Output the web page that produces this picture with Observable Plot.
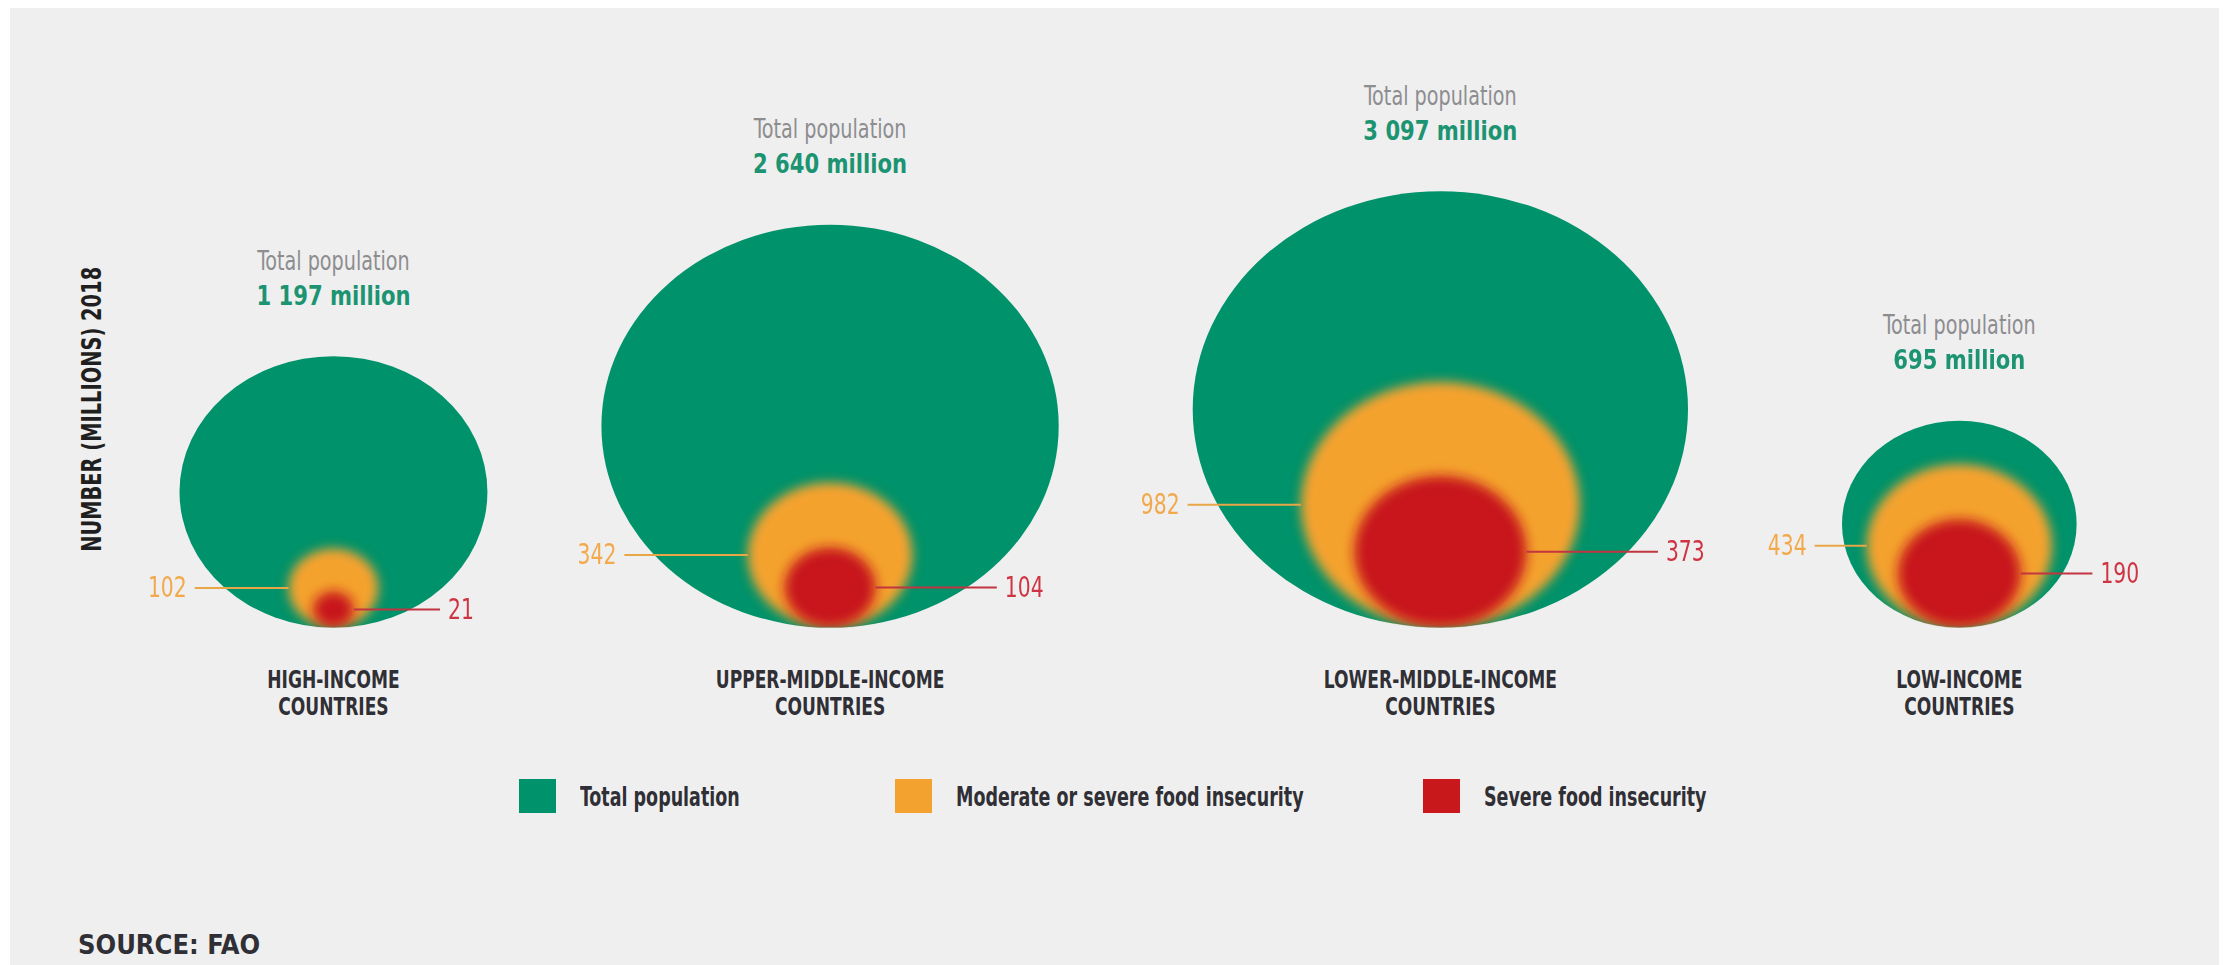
<!DOCTYPE html>
<html>
<head>
<meta charset="utf-8">
<script src="https://cdn.jsdelivr.net/npm/d3@7"></script>
<script src="https://cdn.jsdelivr.net/npm/@observablehq/plot@0.6"></script>
<style>
  html, body { margin: 0; padding: 0; background: #ffffff; }
  body { width: 2234px; height: 965px; overflow: hidden; position: relative;
         font-family: "Liberation Sans Narrow", "DejaVu Sans Condensed", "Roboto", sans-serif; }
  #panel { position: absolute; left: 10px; top: 8px; width: 2209px; height: 957px; background: #efefef; overflow: hidden; }
  #chart { position: absolute; left: 0; top: 0; }
  #legend { position: absolute; top: 771px; left: 0; width: 100%; height: 34px; }
  .item { position: absolute; top: 0; height: 34px; display: flex; align-items: center;
          font-weight: bold; font-size: 27px; color: #2f2f35; white-space: nowrap; }
  .item span { display: inline-block; transform: scaleX(0.72); transform-origin: left center; }
  .sw { width: 37px; height: 34px; margin-right: 24px; flex: none; }
  #source { position: absolute; left: 68px; top: 922px; font-weight: bold; font-size: 27px; line-height: 30px; color: #2f2f35; }
</style>
</head>
<body>
<div id="panel">
  <div id="chart"></div>
  <div id="legend"></div>
  <div id="source">SOURCE: FAO</div>
</div>
<script>
// ---- Data ----
const categories = [
  "HIGH-INCOME\nCOUNTRIES",
  "UPPER-MIDDLE-INCOME\nCOUNTRIES",
  "LOWER-MIDDLE-INCOME\nCOUNTRIES",
  "LOW-INCOME\nCOUNTRIES"
];
const totalPopulation = [1197, 2640, 3097, 695];      // millions, 2018
const moderateOrSevere = [102, 342, 982, 434];        // moderate or severe food insecurity
const severeInsecurity = [21, 104, 373, 190];         // severe food insecurity
const seriesNames = ["Total population", "Moderate or severe food insecurity", "Severe food insecurity"];
const axisTitle = "NUMBER (MILLIONS) 2018";
const totalCaption = "Total population";

// ---- Styling / layout ----
const FONT = '"Liberation Sans Narrow", "DejaVu Sans Condensed", "Roboto", sans-serif';
const GREEN = "#00926a", ORANGE = "#f4a22f", RED = "#c8181c";
const seriesColors = [GREEN, ORANGE, RED];
const KX = 4.45, KY = 3.92;          // px per sqrt-unit, horizontal / vertical
const BOTTOM = 619, LEFT = 169;
const GAP0_PX = 114, GAP_STEP_PX = 20, PAD_PX = 30;
const W = 2209, H = 745;
const padU = PAD_PX / KX;

const fmt = v => String(v).replace(/\B(?=(\d{3})+(?!\d))/g, " ");

let cursor = 0, lastGap = 0;
const rows = categories.map((category, i) => {
  const sT = Math.sqrt(totalPopulation[i]);
  const sM = Math.sqrt(moderateOrSevere[i]);
  const sS = Math.sqrt(severeInsecurity[i]);
  const cx = cursor + sT;
  lastGap = (GAP0_PX + GAP_STEP_PX * i) / KX;
  cursor = cx + sT + lastGap;
  const halfWidthAt = h => sT * Math.sqrt(Math.max(0, 1 - ((h - sT) / sT) ** 2));
  return {
    category, total: totalPopulation[i], moderate: moderateOrSevere[i], severe: severeInsecurity[i],
    cx, sT, sM, sS,
    mLeft: cx - halfWidthAt(sM) - padU, mEdge: cx - sM,
    sEdge: cx + sS, sRight: cx + halfWidthAt(sS) + padU
  };
});
const extent = cursor - lastGap;
const maxTotal = d3.max(totalPopulation);
const yMax = 2 * Math.sqrt(maxTotal);

const svg = Plot.plot({
  width: W, height: H,
  marginLeft: 82, marginTop: 0, marginRight: 0, marginBottom: 0,
  style: { background: "transparent", fontFamily: FONT, overflow: "visible" },
  x: { domain: [0, extent], range: [LEFT, LEFT + KX * extent], axis: null },
  y: { domain: [0, yMax], range: [BOTTOM, BOTTOM - KY * yMax], axis: null },
  r: { type: "sqrt", domain: [0, maxTotal], range: [0, KX * Math.sqrt(maxTotal)] },
  marks: [
    Plot.dot(rows, { x: "cx", y: "sT", r: "total", fill: GREEN }),
    Plot.dot(rows, { x: "cx", y: "sM", r: "moderate", fill: ORANGE }),
    Plot.dot(rows, { x: "cx", y: "sS", r: "severe", fill: RED }),
    Plot.link(rows, { x1: "mLeft", x2: "mEdge", y1: "sM", y2: "sM", stroke: "#e9a646", strokeWidth: 2 }),
    Plot.link(rows, { x1: "sEdge", x2: "sRight", y1: "sS", y2: "sS", stroke: "#c23540", strokeWidth: 2 }),
    Plot.text(rows, { x: "mLeft", y: "sM", text: d => String(d.moderate), textAnchor: "end", dx: -8,
                      fill: "#f2a94c", fontSize: 29 }),
    Plot.text(rows, { x: "sRight", y: "sS", text: d => String(d.severe), textAnchor: "start", dx: 8,
                      fill: "#cf3443", fontSize: 29 }),
    Plot.text(rows, { x: "cx", y: d => 2 * d.sT, text: () => totalCaption, dy: -95,
                      fill: "#8d8d90", fontSize: 27 }),
    Plot.text(rows, { x: "cx", y: d => 2 * d.sT, text: d => fmt(d.total) + " million", dy: -60,
                      fill: "#1c9472", fontSize: 27, fontWeight: "bold" }),
    Plot.text(rows, { x: "cx", y: () => 0, text: "category", lineAnchor: "top", dy: 41, lineHeight: 1.08,
                      fontSize: 25, fontWeight: "bold", fill: "#2f2f35" }),
    Plot.text([axisTitle], { y: () => Math.sqrt(maxTotal), frameAnchor: "left", textAnchor: "middle",
                             text: d => d, rotate: -90, fontSize: 27, fontWeight: "bold", fill: "#1f1f22" })
  ]
});

// ---- Ellipses (the source is stretched horizontally), blur and clipping ----
const NS = "http://www.w3.org/2000/svg";
const ratio = KY / KX;
const defs = document.createElementNS(NS, "defs");
function blurFilter(id, sd) {
  const f = document.createElementNS(NS, "filter");
  f.setAttribute("id", id);
  f.setAttribute("x", "-20%"); f.setAttribute("y", "-20%");
  f.setAttribute("width", "140%"); f.setAttribute("height", "140%");
  const b = document.createElementNS(NS, "feGaussianBlur");
  b.setAttribute("stdDeviation", sd);
  f.appendChild(b);
  return f;
}
defs.appendChild(blurFilter("blur-orange", 5.5));
defs.appendChild(blurFilter("blur-red", 6));
const clip = document.createElementNS(NS, "clipPath");
clip.setAttribute("id", "inside-total");
defs.appendChild(clip);
svg.insertBefore(defs, svg.firstChild);

function squash(group) {
  group.querySelectorAll("circle").forEach(c => {
    const cy = +c.getAttribute("cy");
    c.setAttribute("transform", `translate(0,${cy * (1 - ratio)}) scale(1,${ratio})`);
  });
}
const dotGroups = Array.from(svg.querySelectorAll("g")).filter(g => g.querySelector(":scope > circle"));
const [gTotal, gMod, gSev] = dotGroups;
dotGroups.forEach(squash);
gTotal.querySelectorAll("circle").forEach(c => clip.appendChild(c.cloneNode(true)));
[["blur-orange", gMod], ["blur-red", gSev]].forEach(([id, g]) => {
  g.setAttribute("filter", `url(#${id})`);
  g.setAttribute("clip-path", "url(#inside-total)");
});

// ---- Condensed lettering (the source uses a condensed typeface) ----
const textGroups = Array.from(svg.querySelectorAll("g")).filter(g => g.querySelector(":scope > text"));
const condense = [0.78, 0.78, 0.79, 0.87, 0.76, 0.8];
textGroups.forEach((g, i) => {
  const f = condense[i] ?? 0.8;
  g.querySelectorAll(":scope > text").forEach(t => {
    t.setAttribute("transform", `${t.getAttribute("transform") || ""} scale(${f},1)`);
  });
});

document.getElementById("chart").appendChild(svg);

// ---- Legend ----
const legendLefts = [509, 885, 1413];
const legend = document.getElementById("legend");
seriesNames.forEach((name, i) => {
  const item = document.createElement("div");
  item.className = "item";
  item.style.left = legendLefts[i] + "px";
  const sw = document.createElement("div");
  sw.className = "sw";
  sw.style.background = seriesColors[i];
  const label = document.createElement("span");
  label.textContent = name;
  item.appendChild(sw);
  item.appendChild(label);
  legend.appendChild(item);
});
</script>
</body>
</html>
